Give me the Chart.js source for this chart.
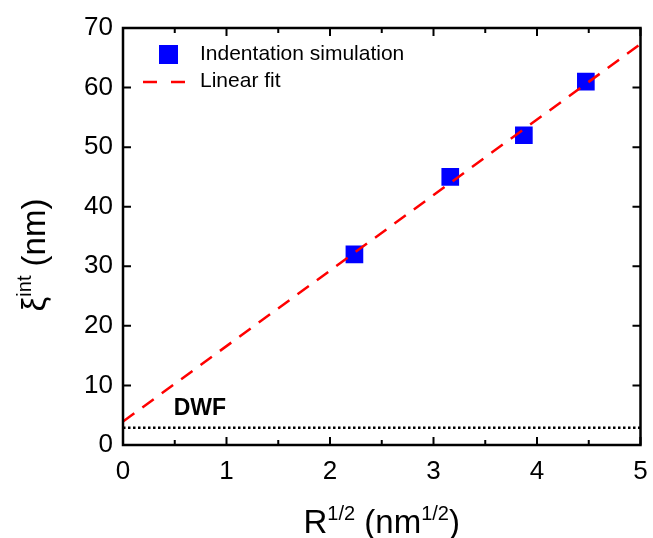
<!DOCTYPE html>
<html>
<head>
<meta charset="utf-8">
<script src="https://cdn.jsdelivr.net/npm/chart.js@4"></script>
<style>
  html, body { margin: 0; padding: 0; background: #fff; }
  #wrap { width: 653px; height: 538px; }
</style>
</head>
<body>
<div id="wrap"><canvas id="myChart"></canvas></div>
<script>
// dati
const rootR = [2.236, 3.162, 3.873, 4.472];   // R^(1/2)
const xiInt = [32, 45, 52, 61];               // xi^int (nm)
const fitX = [0, 5];
const fitY = [3.93, 67.3];                    // retta di fit
const dwfX = [0, 5];
const dwfY = [2.9, 2.9];                      // livello DWF
const xTicks = [0, 1, 2, 3, 4, 5];
const xMinor = [0.5, 1.5, 2.5, 3.5, 4.5];
const yTicks = [0, 10, 20, 30, 40, 50, 60, 70];

const FONT = '"Liberation Sans", Arial, sans-serif';

// cornice, tacche interne, titoli, legenda e scritta DWF
const extras = {
  id: 'extras',
  afterDraw(chart) {
    const c = chart.ctx, a = chart.chartArea;
    const xs = chart.scales.x, ys = chart.scales.y;
    c.save();
    c.strokeStyle = '#000';
    c.lineWidth = 2.5;
    c.strokeRect(a.left, a.top, a.right - a.left, a.bottom - a.top);
    c.lineWidth = 2;
    c.beginPath();
    xTicks.forEach(v => {
      const p = xs.getPixelForValue(v);
      c.moveTo(p, a.bottom); c.lineTo(p, a.bottom - 8);
      c.moveTo(p, a.top); c.lineTo(p, a.top + 8);
    });
    xMinor.forEach(v => {
      const p = xs.getPixelForValue(v);
      c.moveTo(p, a.bottom); c.lineTo(p, a.bottom - 5);
      c.moveTo(p, a.top); c.lineTo(p, a.top + 5);
    });
    yTicks.forEach(v => {
      const p = ys.getPixelForValue(v);
      c.moveTo(a.left, p); c.lineTo(a.left + 8, p);
      c.moveTo(a.right, p); c.lineTo(a.right - 8, p);
    });
    c.stroke();

    // DWF
    c.fillStyle = '#000';
    c.font = 'bold 23px ' + FONT;
    c.textBaseline = 'alphabetic';
    c.textAlign = 'left';
    c.fillText('DWF', xs.getPixelForValue(0.5) - 1, ys.getPixelForValue(5.0));

    // legenda
    c.fillStyle = '#0000ff';
    c.fillRect(159, 45, 19, 19);
    c.strokeStyle = '#ff0000';
    c.lineWidth = 2.5;
    c.setLineDash([14, 14]);
    c.beginPath(); c.moveTo(143, 82); c.lineTo(188, 82); c.stroke();
    c.setLineDash([]);
    c.fillStyle = '#000';
    c.font = '21px ' + FONT;
    c.textBaseline = 'middle';
    c.fillText('Indentation simulation', 200, 54);
    c.fillText('Linear fit', 200, 81);

    // titolo asse x con apici
    const big = '33px ' + FONT, sup = '20px ' + FONT;
    const partsX = [['R', big, 0], ['1/2', sup, -13], [' (nm', big, 0], ['1/2', sup, -13], [')', big, 0]];
    const widthOf = parts => parts.reduce((s, p) => { c.font = p[1]; return s + c.measureText(p[0]).width; }, 0);
    c.textBaseline = 'alphabetic';
    let wx = widthOf(partsX);
    let px = (a.left + a.right) / 2 - wx / 2;
    partsX.forEach(p => { c.font = p[1]; c.fillText(p[0], px, 533 + p[2]); px += c.measureText(p[0]).width; });

    // titolo asse y
    const partsY = [['\u03be', big, 0], ['int', sup, -14], [' (nm)', big, 0]];
    let wy = widthOf(partsY);
    c.translate(45, 255);
    c.rotate(-Math.PI / 2);
    let py = -wy / 2;
    partsY.forEach(p => { c.font = p[1]; c.fillText(p[0], py, p[2]); py += c.measureText(p[0]).width; });
    c.restore();
  }
};

new Chart(document.getElementById('myChart'), {
  type: 'scatter',
  data: {
    datasets: [
      {
        label: 'Indentation simulation',
        data: rootR.map((x, i) => ({ x: x, y: xiInt[i] })),
        pointStyle: 'rect',
        pointRadius: 12.5,
        pointHoverRadius: 12.5,
        backgroundColor: '#0000ff',
        borderColor: '#0000ff',
        borderWidth: 0,
        order: 2
      },
      {
        label: 'Linear fit',
        type: 'line',
        data: fitX.map((x, i) => ({ x: x, y: fitY[i] })),
        borderColor: '#ff0000',
        borderWidth: 2.5,
        borderDash: [14, 10],
        pointRadius: 0,
        fill: false,
        order: 1
      },
      {
        label: 'DWF',
        type: 'line',
        data: dwfX.map((x, i) => ({ x: x, y: dwfY[i] })),
        borderColor: '#000',
        borderWidth: 2.5,
        borderDash: [2.5, 2.5],
        pointRadius: 0,
        fill: false,
        order: 1
      }
    ]
  },
  options: {
    responsive: true,
    maintainAspectRatio: false,
    animation: false,
    layout: { padding: { top: 28, right: 0, left: 0, bottom: 0 } },
    plugins: { legend: { display: false }, tooltip: { enabled: false } },
    scales: {
      x: {
        type: 'linear', min: 0, max: 5,
        afterFit: s => { s.height = 93; s.paddingRight = 10; },
        afterBuildTicks: s => { s.ticks = xTicks.map(v => ({ value: v })); },
        grid: { display: false, drawTicks: false },
        border: { display: false },
        ticks: { color: '#000', font: { family: FONT, size: 26 }, padding: 11, maxRotation: 0 }
      },
      y: {
        type: 'linear', min: 0, max: 70,
        afterFit: s => { s.width = 123; },
        afterBuildTicks: s => { s.ticks = yTicks.map(v => ({ value: v })); },
        grid: { display: false, drawTicks: false },
        border: { display: false },
        ticks: { color: '#000', font: { family: FONT, size: 26 }, padding: 10 }
      }
    }
  },
  plugins: [extras]
});
</script>
</body>
</html>
